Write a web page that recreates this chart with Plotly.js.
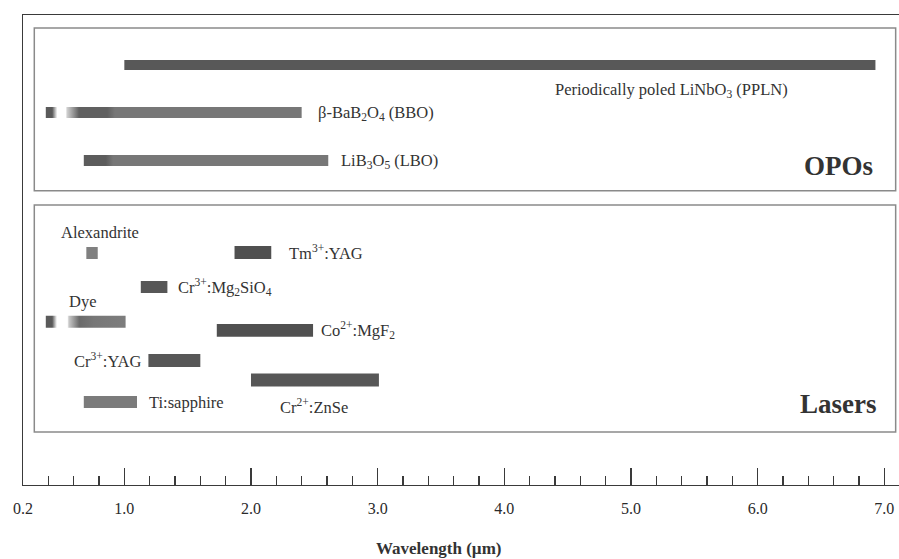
<!DOCTYPE html>
<html>
<head>
<meta charset="utf-8">
<script src="https://cdn.plot.ly/plotly-3.0.1.min.js"></script>
<style>html,body{margin:0;padding:0;background:#fff;}#chart{width:899px;height:559px;}</style>
</head>
<body>
<div id="chart"></div>
<script>
// ---- Data (wavelength ranges in µm) ----
const opoNames  = ['Periodically poled LiNbO<sub>3</sub> (PPLN)', 'β-BaB<sub>2</sub>O<sub>4</sub> (BBO)', 'LiB<sub>3</sub>O<sub>5</sub> (LBO)'];
const opoStart  = [1.00, 0.38, 0.68];
const opoEnd    = [6.93, 2.40, 2.61];

const laserNames = ['Alexandrite', 'Tm<sup>3+</sup>:YAG', 'Cr<sup>3+</sup>:Mg<sub>2</sub>SiO<sub>4</sub>', 'Dye',
                    'Co<sup>2+</sup>:MgF<sub>2</sub>', 'Cr<sup>3+</sup>:YAG', 'Cr<sup>2+</sup>:ZnSe', 'Ti:sapphire'];
const laserStart = [0.70, 1.87, 1.13, 0.38, 1.73, 1.19, 2.00, 0.68];
const laserEnd   = [0.79, 2.16, 1.34, 1.01, 2.49, 1.60, 3.01, 1.10];

const tickVals = [0.2, 1, 2, 3, 4, 5, 6, 7];
const tickText = ['0.2', '1.0', '2.0', '3.0', '4.0', '5.0', '6.0', '7.0'];
const axisTitle = 'Wavelength (µm)';
const groupTitles = ['OPOs', 'Lasers'];

// ---- Layout / style (rows in vertical layout units, top = 0) ----
const opoRow    = [50, 97.5, 145.5];
const opoH      = [10, 11, 11];
const laserRow  = [238, 237.5, 272, 306.7, 315.3, 345.5, 365, 387];
const laserH    = [12, 13, 12, 12, 12.7, 13, 13, 12];

const DARK = '#575757', LIGHT = '#7b7b7b';
const solid = c => [[0, c], [1, c]];
const opoScale = [
  solid('#585858'),
  [[0,'#5a5a5a'],[0.025,'#5a5a5a'],[0.045,'#ffffff'],[0.078,'#ffffff'],[0.083,'#d0d0d0'],[0.13,'#606060'],[0.24,'#606060'],[0.27,'#777777'],[1,'#777777']],
  [[0,'#5c5c5c'],[0.09,'#5c5c5c'],[0.12,'#777777'],[1,'#777777']]
];
const laserScale = [
  solid('#808080'), solid('#505050'), solid(DARK),
  [[0,'#5a5a5a'],[0.08,'#5a5a5a'],[0.14,'#ffffff'],[0.27,'#ffffff'],[0.29,'#c8c8c8'],[0.42,'#6a6a6a'],[0.6,'#777777'],[1,'#7d7d7d']],
  solid('#505050'), solid(DARK), solid(DARK), solid(LIGHT)
];

function barTrace(s, e, yc, h, scale) {
  return {
    type: 'scatter', mode: 'lines',
    x: [s, e, e, s, s],
    y: [yc - h/2, yc - h/2, yc + h/2, yc + h/2, yc - h/2],
    fill: 'toself', line: {width: 0, color: 'rgba(0,0,0,0)'},
    fillgradient: {type: 'horizontal', colorscale: scale},
    hoverinfo: 'skip', showlegend: false
  };
}

const traces = [];
opoStart.forEach((s, i) => traces.push(barTrace(s, opoEnd[i], opoRow[i], opoH[i], opoScale[i])));
laserStart.forEach((s, i) => traces.push(barTrace(s, laserEnd[i], laserRow[i], laserH[i], laserScale[i])));

const SERIF = "'Liberation Serif', 'Times New Roman', serif";
const LF = {family: SERIF, size: 16.5, color: '#333'};
function lab(text, x, y, xanchor, xshift) {
  return {text, x, y, xref: 'x', yref: 'y', xanchor, yanchor: 'middle', xshift: xshift || 0,
          showarrow: false, font: LF};
}
const annotations = [
  lab(opoNames[0], 5.32, 75, 'center'),
  lab(opoNames[1], opoEnd[1], opoRow[1], 'left', 14),
  lab(opoNames[2], opoEnd[2], opoRow[2], 'left', 11),
  lab(laserNames[0], 0.81, 217, 'center'),
  lab(laserNames[1], laserEnd[1], laserRow[1], 'left', 16),
  lab(laserNames[2], laserEnd[2], laserRow[2], 'left', 9),
  lab(laserNames[3], 0.67, 286, 'center'),
  lab(laserNames[4], laserEnd[4], laserRow[4], 'left', 6),
  lab(laserNames[5], laserStart[5], laserRow[5], 'right', -5),
  lab(laserNames[6], 2.50, 391, 'center'),
  lab(laserNames[7], laserEnd[7], laserRow[7], 'left', 10),
  {text: '<b>' + groupTitles[0] + '</b>', x: 0.9726, y: 151, xref: 'paper', yref: 'y', xanchor: 'right', yanchor: 'middle',
   showarrow: false, font: {family: SERIF, size: 27, color: '#333'}},
  {text: '<b>' + groupTitles[1] + '</b>', x: 0.9775, y: 389, xref: 'paper', yref: 'y', xanchor: 'right', yanchor: 'middle',
   showarrow: false, font: {family: SERIF, size: 27, color: '#333'}},
  {text: '<b>' + axisTitle + '</b>', x: 0.474, y: -0.135, xref: 'paper', yref: 'paper', xanchor: 'center', yanchor: 'middle',
   showarrow: false, font: {family: SERIF, size: 17, color: '#333'}}
];

const boxLine = {color: '#8a8a8a', width: 1.5};
const shapes = [
  {type: 'rect', xref: 'paper', yref: 'y', x0: 0.0129, x1: 0.9962, y0: 13, y1: 175.7, line: boxLine},
  {type: 'rect', xref: 'paper', yref: 'y', x0: 0.0129, x1: 0.9962, y0: 190, y1: 417, line: boxLine}
];

const layout = {
  width: 899, height: 559,
  margin: {l: 22.7, r: 0, t: 15, b: 74, pad: 0},
  paper_bgcolor: '#ffffff', plot_bgcolor: '#ffffff',
  showlegend: false,
  xaxis: {
    range: [0.2, 7.116], showgrid: false, zeroline: false,
    showline: true, mirror: true, linecolor: '#3a3a3a', linewidth: 1.3,
    tickmode: 'array', tickvals: tickVals, ticktext: tickText,
    ticks: 'inside', ticklen: 17, tickwidth: 1.2, tickcolor: '#3a3a3a',
    ticklabelstandoff: 8,
    tickfont: {family: SERIF, size: 16, color: '#2a2a2a'},
    minor: {tick0: 0.2, dtick: 0.2, ticks: 'inside', ticklen: 9, tickwidth: 1.1, tickcolor: '#3a3a3a', showgrid: false},
    fixedrange: true
  },
  yaxis: {
    range: [470, 0], showgrid: false, zeroline: false, showticklabels: false, ticks: '',
    showline: true, linecolor: '#3a3a3a', linewidth: 1.3, fixedrange: true
  },
  shapes, annotations
};

Plotly.newPlot('chart', traces, layout, {staticPlot: true, displayModeBar: false});
</script>
</body>
</html>
